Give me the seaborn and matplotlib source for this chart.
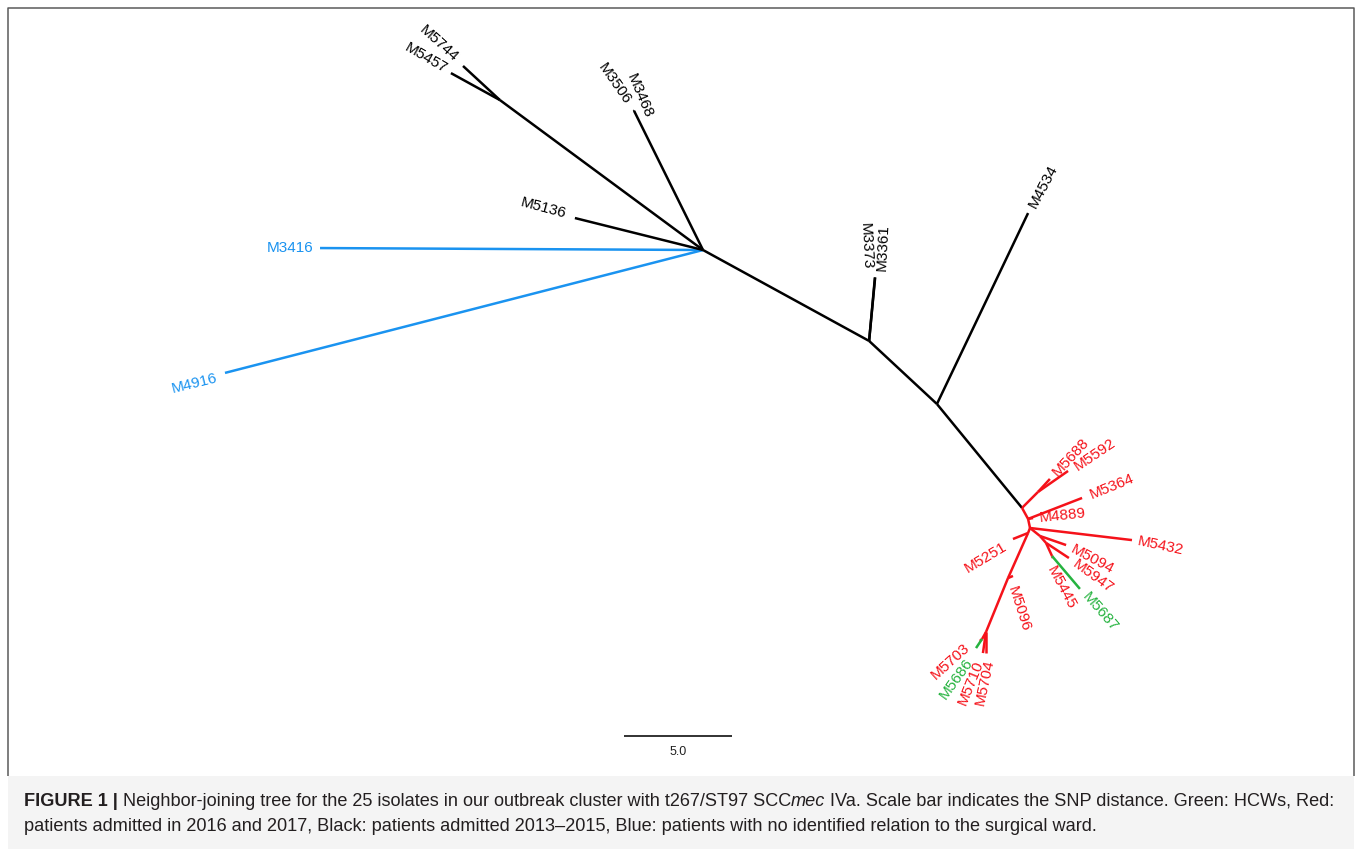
"""
Neighbor-joining tree (unrooted, radial layout) for the t267/ST97 outbreak cluster.
Branch ends are given in SNP units; the scale bar is 5 SNPs.
"""

import numpy as np
import pandas as pd
import matplotlib
matplotlib.use("Agg")
import matplotlib.pyplot as plt
import matplotlib.patches as mpatches
from matplotlib.lines import Line2D
import seaborn as sns

# ── 1. Tree data (node positions in SNP units, hub at origin) ────────────────
NODE = ["A", "M3416", "M4916", "M5136", "N", "M5744", "M5457",
        "P", "M3506", "M3468", "B", "M3373", "M3361", "C", "M4534",
        "D", "E", "M5688", "M5592", "F", "M4889", "M5364", "G", "M5432",
        "K", "M5094", "L", "M5947", "Mn", "M5445", "M5687",
        "H", "M5251", "R", "M5096", "I", "J", "M5703", "M5686",
        "M5710", "M5704"]
PARENT = [None, "A", "A", "A", "A", "N", "N",
          "A", "P", "P", "A", "B", "B", "B", "C",
          "C", "D", "E", "E", "D", "F", "F", "F", "G",
          "G", "K", "K", "L", "L", "Mn", "Mn",
          "G", "H", "H", "R", "R", "I", "J", "J",
          "I", "I"]
NODE_X = [0.00, -17.73, -22.13, -5.93, -9.40, -11.11, -11.67,
          -3.19, -3.22, -3.17, 7.69, 7.96, 7.97, 10.83, 15.05,
          14.77, 15.51, 16.06, 16.90, 15.05, 15.28, 17.55, 15.14, 19.86,
          15.60, 16.81, 15.88, 16.94, 16.16, 16.20, 17.45,
          15.05, 14.35, 14.12, 14.35, 13.10, 12.92, 12.82, 12.64,
          12.96, 13.10]
NODE_Y = [0.00, 0.09, -5.69, 1.48, 6.94, 8.52, 8.19,
          6.44, 6.42, 6.46, -4.21, -1.27, -1.27, -7.13, 1.71,
          -11.94, -11.20, -10.60, -10.23, -12.45, -12.41, -11.48, -12.87, -13.43,
          -13.24, -13.66, -13.56, -14.26, -14.17, -14.26, -15.69,
          -13.10, -13.38, -15.19, -15.09, -17.69, -18.01, -18.10, -18.43,
          -18.66, -18.66]
# colour group of the branch leading to each node
GROUP = ["black", "blue", "blue", "black", "black", "black", "black",
         "black", "black", "black", "black", "black", "black", "black", "black",
         "black", "red", "red", "red", "red", "red", "red", "red", "red",
         "red", "red", "red", "red", "red", "red", "green",
         "red", "red", "red", "red", "red", "red", "red", "green",
         "red", "red"]
SCALE_LEN = 5.0

PALETTE = {"black": "#000000", "red": "#f5121a",
           "blue": "#1a93f0", "green": "#25b33f"}

# tip label placement: rotation, alignment, offset from tip (pixels)
LABEL_STYLE = {
    "M5744": (-42, "right", -7, 7),   "M5457": (-30, "right", -5, 3),
    "M3506": (-55, "right", -6, 8),   "M3468": (-67, "right", 14, -7),
    "M5136": (-15, "right", -9, 4),   "M3416": (0, "right", -7, 0),
    "M4916": (14, "right", -8, -5),   "M3373": (-87, "right", -8, 8),
    "M3361": (87, "left", 7, 7),      "M4534": (62, "left", 4, 6),
    "M5688": (47, "left", 5, 5),      "M5592": (34, "left", 7, 3),
    "M5364": (22, "left", 8, 3),      "M4889": (6, "left", 6, 0),
    "M5432": (-12, "left", 6, -1),    "M5251": (31, "right", -7, -6),
    "M5094": (-28, "left", 6, -3),    "M5947": (-36, "left", 5, -5),
    "M5445": (-62, "left", -3, -9),   "M5687": (-49, "left", 5, -5),
    "M5096": (-72, "left", -1, -11),  "M5703": (42, "right", -12, -5),
    "M5686": (54, "right", -6, -12),  "M5710": (68, "right", -3, -8),
    "M5704": (78, "right", 4, -7),
}

# ── 2. Build edge table ──────────────────────────────────────────────────────
pos = {n: (x, y) for n, x, y in zip(NODE, NODE_X, NODE_Y)}
rows = []
for i, (n, p, g) in enumerate(zip(NODE, PARENT, GROUP)):
    if p is None:
        continue
    rows.append({"edge": i, "x": pos[p][0], "y": pos[p][1], "group": g})
    rows.append({"edge": i, "x": pos[n][0], "y": pos[n][1], "group": g})
edges = pd.DataFrame(rows)

# ── 3. Figure ────────────────────────────────────────────────────────────────
W, H = 1357, 849
PX = 21.6          # pixels per SNP
X0, Y0 = 703, 250  # pixel position of the hub

sns.set_theme(style="white")
plt.rcParams["font.family"] = ["Liberation Sans", "DejaVu Sans"]
plt.rcParams["lines.solid_capstyle"] = "butt"

fig = plt.figure(figsize=(W / 100, H / 100), dpi=100)
fig.patch.set_facecolor("white")

# caption band + three-sided frame
fig.patches.append(mpatches.Rectangle((8 / W, 0), 1346 / W, 1 - 776 / H,
                                      transform=fig.transFigure,
                                      facecolor="#f4f4f4", edgecolor="none"))
fx = [8 / W, 8 / W, 1354 / W, 1354 / W]
fy = [1 - 776 / H, 1 - 8 / H, 1 - 8 / H, 1 - 776 / H]
fig.lines.append(Line2D(fx, fy, transform=fig.transFigure,
                        color="#5a5a5a", linewidth=1.1))

ax = fig.add_axes([0, 0, 1, 1])
ax.patch.set_alpha(0)
sns.lineplot(data=edges, x="x", y="y", units="edge", estimator=None,
             hue="group", palette=PALETTE, sort=False, legend=False,
             linewidth=1.8, ax=ax)
ax.set_xlim(-X0 / PX, (W - X0) / PX)
ax.set_ylim((Y0 - H) / PX, Y0 / PX)
ax.axis("off")

for n, g in zip(NODE, GROUP):
    if n not in LABEL_STYLE:
        continue
    rot, ha, dx, dy = LABEL_STYLE[n]
    ax.annotate(n, pos[n], xytext=(dx, dy), textcoords="offset pixels",
                rotation=rot, rotation_mode="anchor", ha=ha, va="center",
                fontsize=11, color=PALETTE[g])

# scale bar
sb_x, sb_y = (624 - X0) / PX, (Y0 - 736) / PX
ax.plot([sb_x, sb_x + SCALE_LEN], [sb_y, sb_y], color="#222222", lw=1.3)
ax.text(sb_x + SCALE_LEN / 2, sb_y - 0.75, f"{SCALE_LEN:.1f}", ha="center",
        va="center", fontsize=9, color="#222222")

# ── 4. Caption (mixed styles) ────────────────────────────────────────────────
CAP_COLOR = "#231f20"
line1 = [("FIGURE 1 |", "bold", "normal"), None,
         ("Neighbor-joining tree for the 25 isolates in our outbreak cluster "
          "with t267/ST97 SCC", "normal", "normal"),
         ("mec", "normal", "italic"), None,
         ("IVa. Scale bar indicates the SNP distance. Green: HCWs, Red:",
          "normal", "normal")]
line2 = [("patients admitted in 2016 and 2017, Black: patients admitted "
          "2013\u20132015, Blue: patients with no identified relation to the "
          "surgical ward.", "normal", "normal")]

renderer = fig.canvas.get_renderer()


def text_width(s, size, weight="normal", style="normal"):
    t = fig.text(0, 0, s, fontsize=size, fontweight=weight, fontstyle=style)
    w = t.get_window_extent(renderer).width
    t.remove()
    return w


def draw_runs(runs, x_px, y_px, size, draw=True):
    sp = text_width("M M", size) - text_width("MM", size)
    x = x_px
    for r in runs:
        if r is None:
            x += sp
            continue
        s, weight, style = r
        if draw:
            fig.text(x / W, 1 - y_px / H, s, fontsize=size, fontweight=weight,
                     fontstyle=style, color=CAP_COLOR, ha="left", va="baseline")
        x += text_width(s, size, weight, style)
    return x - x_px


size0 = 11
cap_size = size0 * 1310 / draw_runs(line1, 24, 806, size0, draw=False)
draw_runs(line1, 24, 806, cap_size)
draw_runs(line2, 24, 831, cap_size)

fig.savefig("out.png", dpi=100)
plt.close()
